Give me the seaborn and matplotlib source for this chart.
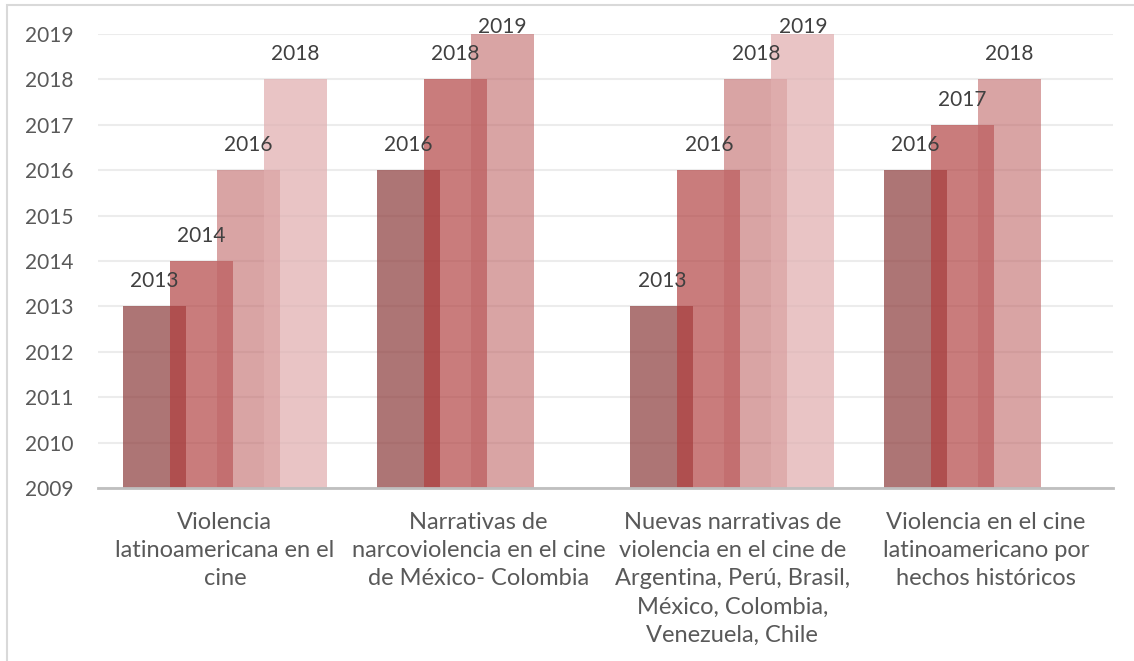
import numpy as np
import pandas as pd
import matplotlib
matplotlib.use("Agg")
import matplotlib.pyplot as plt
import seaborn as sns
from matplotlib.patches import Rectangle


categories = [
    "Violencia\nlatinoamericana en el\ncine",
    "Narrativas de\nnarcoviolencia en el cine\nde México- Colombia",
    "Nuevas narrativas de\nviolencia en el cine de\nArgentina, Perú, Brasil,\nMéxico, Colombia,\nVenezuela, Chile",
    "Violencia en el cine\nlatinoamericano por\nhechos históricos",
]
series_names = ["Serie 1", "Serie 2", "Serie 3", "Serie 4"]
serie_1 = [2013, 2016, 2013, 2016]
serie_2 = [2014, 2018, 2016, 2017]
serie_3 = [2016, 2019, 2018, 2018]
serie_4 = [2018, np.nan, 2019, np.nan]
y_ticks = list(range(2009, 2020))

# colour + alpha per series (transparent, overlapping bars)
bar_colors = [
    (0.545, 0.227, 0.227, 0.70),
    (0.690, 0.243, 0.243, 0.68),
    (0.753, 0.404, 0.408, 0.60),
    (0.882, 0.686, 0.690, 0.73),
]

rows = []
for name, vals in zip(series_names, [serie_1, serie_2, serie_3, serie_4]):
    for cat, v in zip(categories, vals):
        rows.append({"categoria": cat, "serie": name, "anio": v})
df = pd.DataFrame(rows)

sns.set_theme(style="white")
plt.rcParams["font.family"] = ["Lato", "DejaVu Sans"]

fig = plt.figure(figsize=(11.34, 6.61), dpi=100)
ax = fig.add_axes([98 / 1134, 1 - 488 / 661, (1113 - 98) / 1134, (488 - 34) / 661])

sns.barplot(
    data=df, x="categoria", y="anio", hue="serie",
    order=categories, hue_order=series_names,
    width=0.74, dodge=True, errorbar=None, legend=False, ax=ax,
)

ymin, ymax = y_ticks[0], y_ticks[-1]
new_w = 0.248
for cont, col in zip(ax.containers, bar_colors):
    for p in cont.patches:
        h = p.get_height()
        if np.isnan(h) or h == 0:
            continue
        cx = p.get_x() + p.get_width() / 2
        p.set_x(cx - new_w / 2)
        p.set_width(new_w)
        p.set_facecolor(col)
        p.set_edgecolor("none")
        ty = min(h + 0.55, ymax + 0.15)
        ax.text(cx, ty, f"{int(h)}", ha="center", va="center",
                fontsize=15, color="#404040")

ax.set_ylim(ymin, ymax)
ax.set_xlim(-0.5, len(categories) - 0.5)
ax.set_yticks(y_ticks)
ax.set_yticklabels([str(t) for t in y_ticks])
ax.yaxis.grid(True, color="#ececec", linewidth=1.5)
ax.set_axisbelow(True)
ax.set_xlabel("")
ax.set_ylabel("")
ax.tick_params(axis="y", length=0, pad=18, labelsize=15, labelcolor="#595959")
ax.tick_params(axis="x", length=0, labelbottom=False)

# category labels drawn by hand so the line spacing sticks
for i, cat in enumerate(categories):
    ax.annotate(cat, xy=(i, 0), xycoords=("data", "axes fraction"),
                xytext=(0, -17), textcoords="offset points",
                ha="center", va="top", fontsize=17, color="#595959",
                linespacing=1.43, annotation_clip=False)

for side in ["top", "right", "left"]:
    ax.spines[side].set_visible(False)
ax.spines["bottom"].set_color("#bfbfbf")
ax.spines["bottom"].set_linewidth(2)

# outer chart frame (cut off on the right/bottom like the source image)
fig.patches.append(Rectangle((7 / 1134, -0.1), 1.2, 1.1 - 5 / 661,
                             transform=fig.transFigure, fill=False,
                             edgecolor="#d9d9d9", linewidth=1.5))

fig.savefig("out.png", dpi=100)
plt.close(fig)
